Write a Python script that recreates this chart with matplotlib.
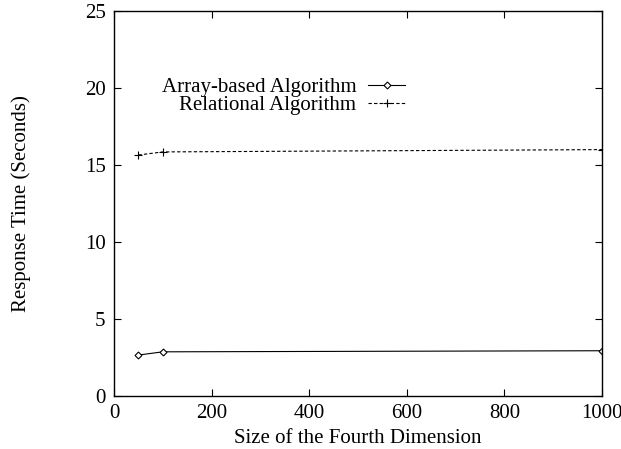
import matplotlib
matplotlib.use("Agg")
import matplotlib.pyplot as plt

sizes = [50, 100, 1000]
array_times = [2.66, 2.87, 2.94]
relational_times = [15.65, 15.85, 16.0]
x_ticks = [0, 200, 400, 600, 800, 1000]
y_ticks = [0, 5, 10, 15, 20, 25]

FS = 15
plt.rcParams['font.family'] = ['Liberation Serif', 'DejaVu Serif']
plt.rcParams['font.size'] = FS

fig = plt.figure(figsize=(6.21, 4.49), dpi=100)
ax = fig.add_axes([0.1836, 0.118, 0.9694 - 0.1836, 0.9755 - 0.118])

ln1, = ax.plot(sizes, array_times, color='black', lw=0.8, marker='D', ms=3.5,
               mfc='white', mec='black', mew=0.8, label='Array-based Algorithm')
ln2, = ax.plot(sizes, relational_times, color='black', lw=0.8, ls=(0, (3, 2)),
               marker='+', ms=6, mew=0.8, label='Relational Algorithm')

ax.set_xlim(0, 1000)
ax.set_ylim(0, 25)
ax.set_xticks(x_ticks)
ax.set_yticks(y_ticks)
ax.tick_params(direction='in', length=5, width=0.8, top=True, right=True,
               labelsize=FS, pad=6)
for s in ax.spines.values():
    s.set_linewidth(1.0)

ax.set_xlabel('Size of the Fourth Dimension', fontsize=FS, labelpad=4)
ax.set_ylabel('Response Time (Seconds)', fontsize=FS, labelpad=39)

common = dict(frameon=False, markerfirst=False, handlelength=1.75,
              handletextpad=0.58, borderpad=0, borderaxespad=0, fontsize=FS)
leg1 = ax.legend(handles=[ln1], loc='center right',
                 bbox_to_anchor=(0.596, 0.8026), **common)
ax.add_artist(leg1)
leg2 = ax.legend(handles=[ln2], loc='center right',
                 bbox_to_anchor=(0.596, 0.7558), **common)

fig.savefig('out.png', dpi=100)
